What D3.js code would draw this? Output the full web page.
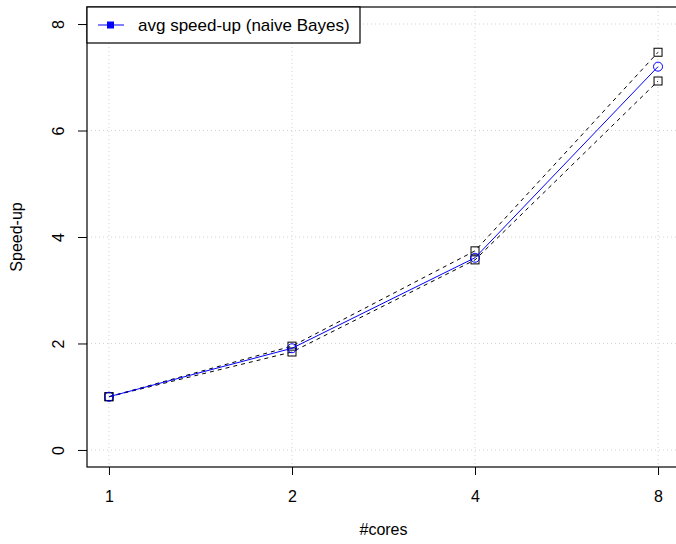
<!DOCTYPE html>
<html>
<head>
<meta charset="utf-8">
<script src="https://cdn.jsdelivr.net/npm/d3@7"></script>
<style>
  body { margin: 0; background: #fff; }
  svg { display: block; font-family: "Liberation Sans", Arial, sans-serif; }
</style>
</head>
<body>
<svg id="chart" width="676" height="544"></svg>
<script>
// Number of cores and measured speed-ups (naive Bayes)
const cores = [1, 2, 4, 8];
const avgSpeedup = [1.0, 1.91, 3.61, 7.20];
const maxSpeedup = [1.0, 1.95, 3.74, 7.47];
const minSpeedup = [1.0, 1.84, 3.57, 6.93];
const yTicks = [0, 2, 4, 6, 8];
const legendLabel = "avg speed-up (naive Bayes)";

(function () {
const svg = d3.select("#chart");
const pLeft = 87, pRight = 680, pTop = 7, pBottom = 467;

// log2 x axis with 4% padding on each side
const lx0 = Math.log2(1), lx1 = Math.log2(8), px = (lx1 - lx0) * 0.04;
const x = d3.scaleLog().base(2)
  .domain([Math.pow(2, lx0 - px), Math.pow(2, lx1 + px)])
  .range([pLeft, pRight]);
const y = d3.scaleLinear().domain([-0.32, 8.32]).range([pBottom, pTop]);

// grid
const grid = svg.append("g").attr("stroke", "#d3d3d3").attr("stroke-dasharray", "1,3");
grid.selectAll("line.v").data(cores).join("line").attr("class", "v")
  .attr("x1", d => x(d)).attr("x2", d => x(d)).attr("y1", pTop).attr("y2", pBottom);
grid.selectAll("line.h").data(yTicks).join("line").attr("class", "h")
  .attr("x1", pLeft).attr("x2", pRight).attr("y1", d => y(d)).attr("y2", d => y(d));

// axes
const xAxis = d3.axisBottom(x).tickValues(cores).tickFormat(d3.format("d")).tickSize(8).tickPadding(16);
const gx = svg.append("g").attr("transform", `translate(0,${pBottom})`).call(xAxis);
gx.select(".domain").remove();
gx.selectAll("text").attr("font-size", 16).attr("fill", "#000").attr("font-family", "Liberation Sans, Arial, sans-serif");

const yAxis = d3.axisLeft(y).tickValues(yTicks).tickSize(9).tickFormat(d3.format("d"));
const gy = svg.append("g").attr("transform", `translate(${pLeft},0)`).call(yAxis);
gy.select(".domain").remove();
gy.selectAll(".tick text")
  .attr("font-size", 16).attr("fill", "#000").attr("font-family", "Liberation Sans, Arial, sans-serif")
  .attr("text-anchor", "middle").attr("dy", null).attr("x", null)
  .attr("transform", "translate(-23,0) rotate(-90)");

// plot frame
svg.append("rect").attr("x", pLeft).attr("y", pTop).attr("width", pRight - pLeft).attr("height", pBottom - pTop)
  .attr("fill", "none").attr("stroke", "#000").attr("stroke-width", 1.2);

// axis titles
svg.append("text").attr("x", (pLeft + pRight) / 2).attr("y", 535).attr("text-anchor", "middle")
  .attr("font-size", 16).text("#cores");
svg.append("text").attr("transform", `translate(22,${(pTop + pBottom) / 2}) rotate(-90)`)
  .attr("text-anchor", "middle").attr("font-size", 16).text("Speed-up");

const line = d3.line().x((d, i) => x(cores[i])).y(d => y(d));

// min / max dashed envelopes
[maxSpeedup, minSpeedup].forEach(series => {
  svg.append("path").attr("d", line(series)).attr("fill", "none")
    .attr("stroke", "#000").attr("stroke-width", 1).attr("stroke-dasharray", "4,4");
  svg.append("g").selectAll("rect").data(series).join("rect")
    .attr("x", (d, i) => x(cores[i]) - 4).attr("y", d => y(d) - 4)
    .attr("width", 8).attr("height", 8)
    .attr("fill", "none").attr("stroke", "#000").attr("stroke-width", 1);
});

// average speed-up
svg.append("path").attr("d", line(avgSpeedup)).attr("fill", "none")
  .attr("stroke", "#0000ff").attr("stroke-width", 1);
svg.append("g").selectAll("circle").data(avgSpeedup).join("circle")
  .attr("cx", (d, i) => x(cores[i])).attr("cy", d => y(d)).attr("r", 4.5)
  .attr("fill", "none").attr("stroke", "#0000ff").attr("stroke-width", 1);

// legend
const lg = svg.append("g");
lg.append("rect").attr("x", pLeft).attr("y", pTop).attr("width", 273).attr("height", 36)
  .attr("fill", "#fff").attr("stroke", "#000").attr("stroke-width", 1.2);
lg.append("line").attr("x1", 98).attr("x2", 124).attr("y1", 25).attr("y2", 25)
  .attr("stroke", "#0000ff").attr("stroke-width", 1);
lg.append("rect").attr("x", 107).attr("y", 21.5).attr("width", 7).attr("height", 7).attr("fill", "#0000ff");
lg.append("text").attr("x", 138).attr("y", 31).attr("font-size", 17).text(legendLabel);
})();
</script>
</body>
</html>
